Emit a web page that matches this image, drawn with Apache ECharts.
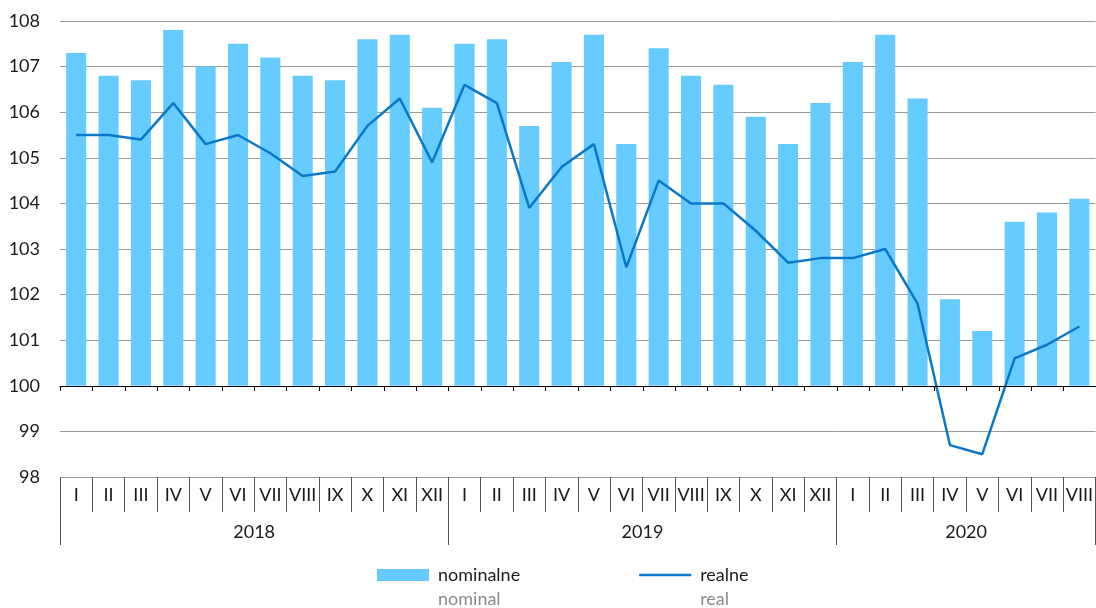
<!DOCTYPE html>
<html><head><meta charset="utf-8">
<script src="https://cdn.jsdelivr.net/npm/echarts@6/dist/echarts.min.js"></script>
<style>html,body{margin:0;padding:0;background:#fff}#c{width:1096px;height:608px}</style>
</head><body><div id="c"></div>
<script>
const months = ['I','II','III','IV','V','VI','VII','VIII','IX','X','XI','XII',
  'I','II','III','IV','V','VI','VII','VIII','IX','X','XI','XII',
  'I','II','III','IV','V','VI','VII','VIII'];
const years = ['2018','2019','2020'];
const yearStart = [0, 12, 24];
const yearLen = [12, 12, 8];
const nominal = [107.3,106.8,106.7,107.8,107.0,107.5,107.2,106.8,106.7,107.6,107.7,106.1,
  107.5,107.6,105.7,107.1,107.7,105.3,107.4,106.8,106.6,105.9,105.3,106.2,
  107.1,107.7,106.3,101.9,101.2,103.6,103.8,104.1];
const real = [105.5,105.5,105.4,106.2,105.3,105.5,105.1,104.6,104.7,105.7,106.3,104.9,
  106.6,106.2,103.9,104.8,105.3,102.6,104.5,104.0,104.0,103.4,102.7,102.8,
  102.8,103.0,101.8,98.7,98.5,100.6,100.9,101.3];
const baseLine = 100;
const yTicks = {min: 98, max: 108, interval: 1};

const FONT = 'Lato, sans-serif';
const FS = 18;
const catW = (1096 - 60) / months.length;

const yearLabelIdx = {};
years.forEach((y, i) => { yearLabelIdx[yearStart[i] + yearLen[i] / 2 - 1] = y; });

const chart = echarts.init(document.getElementById('c'));
chart.setOption({
  animation: false,
  textStyle: {fontFamily: FONT},
  grid: [
    {left: 60, right: 0, top: 21, bottom: 131},
    {left: 60, right: 0, top: 21, bottom: 608 - 386}
  ],
  xAxis: [
    {
      type: 'category', gridIndex: 0, data: months, position: 'bottom',
      axisLine: {show: false},
      axisTick: {show: true, interval: 0, length: 35, lineStyle: {color: '#555', width: 1}},
      axisLabel: {interval: 0, margin: 9, fontSize: FS, color: '#1a1a1a', fontFamily: FONT},
      splitLine: {show: false}
    },
    {
      type: 'category', gridIndex: 0, data: months, position: 'bottom', offset: 35,
      axisLine: {show: false},
      axisTick: {show: true, interval: (i) => yearStart.includes(i), length: 33, lineStyle: {color: '#555', width: 1}},
      axisLabel: {
        interval: (i) => yearLabelIdx[i] !== undefined,
        formatter: (v, i) => '{p|}{t|' + (yearLabelIdx[i] || '') + '}',
        margin: 11, fontSize: FS, color: '#1a1a1a',
        rich: {p: {width: catW}, t: {fontSize: FS, fontFamily: FONT, color: '#1a1a1a'}}
      }
    },
    {
      type: 'category', gridIndex: 1, data: months, position: 'bottom', z: 10,
      axisLine: {show: true, lineStyle: {color: '#000', width: 1.2}},
      axisTick: {show: true, interval: 0, length: 5, lineStyle: {color: '#000', width: 1}},
      axisLabel: {show: false}
    }
  ],
  yAxis: [
    {
      type: 'value', gridIndex: 0, min: yTicks.min, max: yTicks.max, interval: yTicks.interval,
      axisLine: {show: false}, axisTick: {show: false},
      axisLabel: {fontSize: FS, color: '#1a1a1a', margin: 20, fontFamily: FONT},
      splitLine: {lineStyle: {color: '#9a9a9a', width: 1}}
    },
    {
      type: 'value', gridIndex: 1, show: false, min: 0, max: 1
    }
  ],
  legend: {
    left: 377, top: 566, padding: 0, itemGap: 119,
    itemWidth: 52, itemHeight: 12,
    data: [
      {name: 'nominalne', icon: 'rect'},
      {name: 'realne', icon: 'path://M0,0H52V2.5H0Z'}
    ],
    formatter: (n) => n === 'nominalne' ? '{a|nominalne}\n{b|nominal}' : '{a|realne}\n{b|real}',
    textStyle: {
      padding: [24, 0, 0, 4],
      rich: {
        a: {fontSize: FS, color: '#1a1a1a', fontFamily: FONT, lineHeight: 24},
        b: {fontSize: FS, color: '#8a8a8a', fontFamily: FONT, lineHeight: 24}
      }
    }
  },
  series: [
    {
      name: 'base', type: 'bar', stack: 'n', xAxisIndex: 0, yAxisIndex: 0,
      data: nominal.map(() => baseLine), itemStyle: {color: 'transparent'},
      barWidth: '62%', silent: true
    },
    {
      name: 'nominalne', type: 'bar', stack: 'n', xAxisIndex: 0, yAxisIndex: 0,
      data: nominal.map(v => +(v - baseLine).toFixed(2)),
      itemStyle: {color: '#66CCFF'}, barWidth: '62%'
    },
    {
      name: 'realne', type: 'line', xAxisIndex: 0, yAxisIndex: 0, z: 5,
      data: real, symbol: 'none', lineStyle: {color: '#0A78C8', width: 2.5},
      itemStyle: {color: '#0A78C8'}
    }
  ]
});
</script></body></html>
